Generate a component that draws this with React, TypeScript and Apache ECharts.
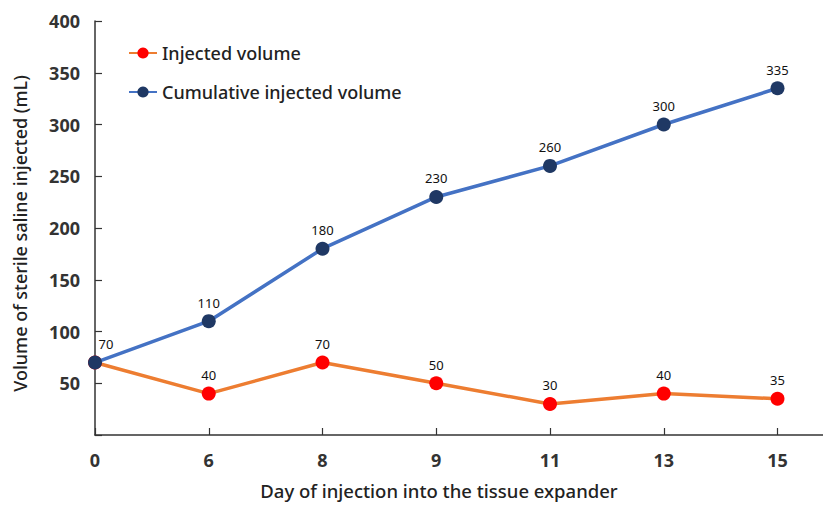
import React, { useEffect, useRef } from "react";
import * as echarts from "echarts";

const days = ["0", "6", "8", "9", "11", "13", "15"];
const injected = [70, 40, 70, 50, 30, 40, 35];
const cumulative = [70, 110, 180, 230, 260, 300, 335];
const yTicks = [0, 50, 100, 150, 200, 250, 300, 350, 400];

const FONT = "'Noto Sans', 'Open Sans', sans-serif";

export default function App() {
  const ref = useRef<HTMLDivElement>(null);
  useEffect(() => {
    if (!ref.current) return;
    const chart = echarts.init(ref.current, undefined, { renderer: "svg" });
    const idx = days.map((_, i) => i);
    chart.setOption({
      animation: false,
      textStyle: { fontFamily: FONT },
      grid: { left: 95, top: 21, right: 0, bottom: 69, containLabel: false },
      legend: {
        orient: "vertical",
        left: 123,
        top: 39,
        itemWidth: 28,
        itemHeight: 14,
        itemGap: 21,
        textStyle: { fontSize: 18, color: "#222", fontWeight: 500, fontFamily: FONT },
        data: ["Injected volume", "Cumulative injected volume"],
      },
      xAxis: {
        type: "value",
        min: 0,
        max: 6.4,
        interval: 1,
        name: "Day of injection into the tissue expander",
        nameLocation: "middle",
        nameGap: 46,
        nameTextStyle: { fontSize: 18.5, color: "#222", fontWeight: 500, fontFamily: FONT, padding: [0, 40, 0, 0] },
        splitLine: { show: false },
        axisLine: { show: true, lineStyle: { color: "#333", width: 1.5 } },
        axisTick: { show: true, inside: true, length: 7, customValues: idx, lineStyle: { color: "#333", width: 1.2 } },
        axisLabel: {
          customValues: idx,
          margin: 16,
          fontSize: 18,
          fontWeight: "bold",
          color: "#333",
          fontFamily: FONT,
          formatter: (v: number) => days[Math.round(v)] ?? "",
        },
      },
      yAxis: {
        type: "value",
        min: 0,
        max: 400,
        interval: 50,
        name: "Volume of sterile saline injected (mL)",
        nameLocation: "middle",
        nameGap: 66,
        nameTextStyle: { fontSize: 18, color: "#222", fontWeight: 500, fontFamily: FONT, padding: [0, 11, 0, 0] },
        splitLine: { show: false },
        axisLine: { show: true, lineStyle: { color: "#333", width: 1.5 } },
        axisTick: { show: true, inside: true, length: 7, lineStyle: { color: "#333", width: 1.2 } },
        axisLabel: {
          margin: 15,
          fontSize: 18,
          fontWeight: "bold",
          color: "#333",
          fontFamily: FONT,
          formatter: (v: number) => (v === yTicks[0] ? "" : String(v)),
        },
      },
      series: [
        {
          name: "Injected volume",
          type: "line",
          symbol: "circle",
          symbolSize: 14,
          lineStyle: { color: "#ED7D31", width: 3.5 },
          itemStyle: { color: "#FF0000" },
          label: { show: true, position: "top", distance: 5, fontSize: 13, color: "#111", fontFamily: FONT },
          data: injected.map((v, i) => ({
            value: [i, v],
            label: i === 0 ? { show: false } : undefined,
          })),
          z: 2,
        },
        {
          name: "Cumulative injected volume",
          type: "line",
          symbol: "circle",
          symbolSize: 14,
          lineStyle: { color: "#4472C4", width: 3.5 },
          itemStyle: { color: "#1F3864" },
          label: { show: true, position: "top", distance: 5, fontSize: 13, color: "#111", fontFamily: FONT },
          data: cumulative.map((v, i) => ({
            value: [i, v],
            label: i === 0 ? { offset: [11, 0] } : undefined,
          })),
          z: 3,
        },
      ],
    });
    return () => chart.dispose();
  }, []);
  return <div ref={ref} style={{ width: 823, height: 505, position: "absolute", left: 0, top: 0 }} />;
}
